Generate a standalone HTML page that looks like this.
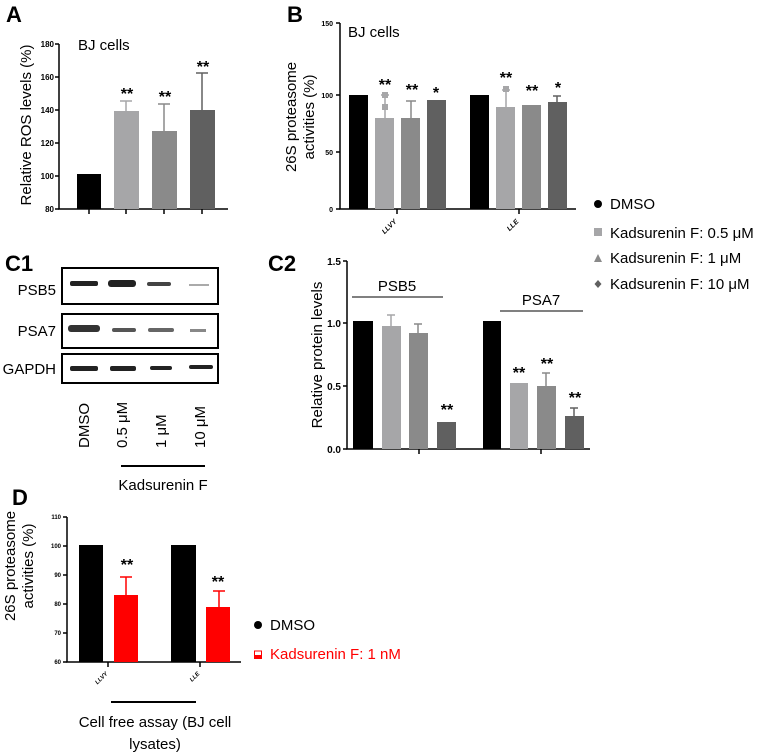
<!DOCTYPE html>
<html><head><meta charset="utf-8"><style>body{margin:0;background:#fff}svg{display:block}text{font-family:"Liberation Sans",sans-serif}</style></head><body>
<svg width="765" height="754" viewBox="0 0 765 754" xmlns="http://www.w3.org/2000/svg">
<!-- Panel A -->
<text x="6" y="22" font-size="22" font-weight="bold">A</text>
<g stroke="#000" stroke-width="1.5" fill="none">
<path d="M59 44V209H228"/>
<path d="M55 44H59M55 77H59M55 110H59M55 143H59M55 176H59M55 209H59"/>
<path d="M89 209v5M126 209v5M164 209v5M202 209v5"/>
</g>
<g font-size="8" font-weight="bold" text-anchor="end">
<text x="54" y="47">180</text><text x="54" y="80">160</text><text x="54" y="113">140</text><text x="54" y="146">120</text><text x="54" y="179">100</text><text x="54" y="212">80</text>
</g>
<text x="78" y="50" font-size="15">BJ cells</text>
<text transform="translate(31,125) rotate(-90)" font-size="15" text-anchor="middle">Relative ROS levels (%)</text>
<rect x="77" y="174" width="24" height="35" fill="#000"/>
<rect x="114" y="111" width="25" height="98" fill="#a6a6a8"/>
<rect x="152" y="131" width="25" height="78" fill="#8a8a8a"/>
<rect x="190" y="110" width="25" height="99" fill="#606060"/>
<g stroke-width="1.5" fill="none">
<path d="M126 111V101M120 101H132" stroke="#a6a6a8"/>
<path d="M164 131V104M158 104H170" stroke="#8a8a8a"/>
<path d="M202 110V73M196 73H208" stroke="#606060"/>
</g>
<g font-size="16" font-weight="bold" text-anchor="middle">
<text x="127" y="99">**</text><text x="165" y="102">**</text><text x="203" y="72">**</text>
</g>
<!-- Panel B -->
<text x="287" y="22" font-size="22" font-weight="bold">B</text>
<g stroke="#000" stroke-width="1.5" fill="none">
<path d="M340 23V209H576"/>
<path d="M336 23H340M336 95H340M336 152H340M336 209H340"/>
<path d="M397 209v5M519 209v5"/>
</g>
<g font-size="7" font-weight="bold" text-anchor="end">
<text x="333" y="26">150</text><text x="333" y="98">100</text><text x="333" y="155">50</text><text x="333" y="212">0</text>
</g>
<text x="348" y="37" font-size="15">BJ cells</text>
<text transform="translate(296,117) rotate(-90)" font-size="15" text-anchor="middle">26S proteasome</text>
<text transform="translate(314,117) rotate(-90)" font-size="15" text-anchor="middle">activities (%)</text>
<rect x="349" y="95" width="19" height="114" fill="#000"/>
<rect x="375" y="118" width="19" height="91" fill="#a6a6a8"/>
<rect x="401" y="118" width="19" height="91" fill="#8a8a8a"/>
<rect x="427" y="100" width="19" height="109" fill="#606060"/>
<rect x="470" y="95" width="19" height="114" fill="#000"/>
<rect x="496" y="107" width="19" height="102" fill="#a6a6a8"/>
<rect x="522" y="105" width="19" height="104" fill="#8a8a8a"/>
<rect x="548" y="102" width="19" height="107" fill="#606060"/>
<g stroke-width="1.5" fill="none">
<path d="M385 118V95M381 95H389" stroke="#a6a6a8"/>
<path d="M411 118V101M406 101H416" stroke="#8a8a8a"/>
<path d="M506 107V90M502 90H510" stroke="#a6a6a8"/>
<path d="M557 102V96M553 96H561" stroke="#606060"/>
</g>
<rect x="382" y="92" width="6" height="6" fill="#a6a6a8"/><rect x="382" y="104" width="6" height="6" fill="#a6a6a8"/>
<rect x="503" y="86" width="6" height="6" fill="#a6a6a8"/>
<g font-size="16" font-weight="bold" text-anchor="middle">
<text x="385" y="90">**</text><text x="412" y="95">**</text><text x="436" y="98">*</text>
<text x="506" y="83">**</text><text x="532" y="96">**</text><text x="558" y="93">*</text>
</g>
<g font-size="7" font-weight="bold" font-style="italic" text-anchor="end">
<text transform="translate(397,222) rotate(-45)">LLVY</text>
<text transform="translate(519,222) rotate(-45)">LLE</text>
</g>
<!-- Legend top -->
<circle cx="598" cy="204" r="4" fill="#000"/>
<text x="610" y="209" font-size="15">DMSO</text>
<rect x="594" y="228" width="8" height="8" fill="#a6a6a8"/>
<text x="610" y="238" font-size="15">Kadsurenin F: 0.5 μM</text>
<path d="M594 262L598 254L602 262Z" fill="#8a8a8a"/>
<text x="610" y="263" font-size="15">Kadsurenin F: 1 μM</text>
<path d="M598 280L601.5 284L598 288L594.5 284Z" fill="#606060"/>
<text x="610" y="289" font-size="15">Kadsurenin F: 10 μM</text>
<!-- C1 -->
<text x="5" y="271" font-size="22" font-weight="bold">C1</text>
<g fill="none" stroke="#000" stroke-width="2">
<rect x="62" y="268" width="156" height="36"/>
<rect x="62" y="314" width="156" height="34"/>
<rect x="62" y="354" width="156" height="29"/>
</g>
<g fill="#222">
<rect x="70" y="281" width="28" height="5" rx="2"/><rect x="108" y="280" width="28" height="7" rx="3"/><rect x="147" y="282" width="24" height="4" rx="2" fill="#444"/><rect x="189" y="284" width="20" height="2" fill="#aaa"/>
<rect x="68" y="325" width="32" height="7" rx="3" fill="#333"/><rect x="112" y="328" width="24" height="4" rx="2" fill="#555"/><rect x="148" y="328" width="26" height="4" rx="2" fill="#666"/><rect x="190" y="329" width="16" height="3" fill="#888"/>
<rect x="70" y="366" width="28" height="5" rx="2"/><rect x="110" y="366" width="26" height="5" rx="2"/><rect x="150" y="366" width="22" height="4" rx="2"/><rect x="189" y="365" width="24" height="4" rx="2"/>
</g>
<g font-size="15" text-anchor="end">
<text x="56" y="295">PSB5</text><text x="56" y="336">PSA7</text><text x="56" y="374">GAPDH</text>
</g>
<g font-size="15">
<text transform="translate(89,448) rotate(-90)">DMSO</text>
<text transform="translate(127,448) rotate(-90)">0.5 μM</text>
<text transform="translate(166,448) rotate(-90)">1 μM</text>
<text transform="translate(205,448) rotate(-90)">10 μM</text>
</g>
<path d="M121 466H205" stroke="#000" stroke-width="2"/>
<text x="163" y="490" font-size="15" text-anchor="middle">Kadsurenin F</text>
<!-- C2 -->
<text x="268" y="271" font-size="22" font-weight="bold">C2</text>
<g stroke="#000" stroke-width="1.5" fill="none">
<path d="M347 261V449H590"/>
<path d="M343 261H347M343 323H347M343 386H347M343 449H347"/>
<path d="M419 449v5M541 449v5"/>
<path d="M352 297H443M500 311H583" stroke-width="1"/>
</g>
<g font-size="10" font-weight="bold" text-anchor="end">
<text x="341" y="265">1.5</text><text x="341" y="327">1.0</text><text x="341" y="390">0.5</text><text x="341" y="453">0.0</text>
</g>
<text transform="translate(322,355) rotate(-90)" font-size="15" text-anchor="middle">Relative protein levels</text>
<text x="397" y="291" font-size="15" text-anchor="middle">PSB5</text>
<text x="541" y="305" font-size="15" text-anchor="middle">PSA7</text>
<rect x="353" y="321" width="20" height="128" fill="#000"/>
<rect x="382" y="326" width="19" height="123" fill="#a6a6a8"/>
<rect x="409" y="333" width="19" height="116" fill="#8a8a8a"/>
<rect x="437" y="422" width="19" height="27" fill="#606060"/>
<rect x="483" y="321" width="18" height="128" fill="#000"/>
<rect x="510" y="383" width="18" height="66" fill="#a6a6a8"/>
<rect x="537" y="386" width="19" height="63" fill="#8a8a8a"/>
<rect x="565" y="416" width="19" height="33" fill="#606060"/>
<g stroke-width="1.5" fill="none">
<path d="M391 326V315M387 315H395" stroke="#a6a6a8"/>
<path d="M418 333V324M414 324H422" stroke="#8a8a8a"/>
<path d="M546 386V373M542 373H550" stroke="#8a8a8a"/>
<path d="M574 416V408M570 408H578" stroke="#606060"/>
</g>
<g font-size="16" font-weight="bold" text-anchor="middle">
<text x="447" y="415">**</text><text x="519" y="378">**</text><text x="547" y="369">**</text><text x="575" y="403">**</text>
</g>
<!-- D -->
<text x="12" y="505" font-size="22" font-weight="bold">D</text>
<g stroke="#000" stroke-width="1.5" fill="none">
<path d="M67 517V662H241"/>
<path d="M63 517H67M63 546H67M63 575H67M63 604H67M63 633H67M63 662H67"/>
<path d="M108 662v5M200 662v5"/>
</g>
<g font-size="6" font-weight="bold" text-anchor="end">
<text x="61" y="519">110</text><text x="61" y="548">100</text><text x="61" y="577">90</text><text x="61" y="606">80</text><text x="61" y="635">70</text><text x="61" y="664">60</text>
</g>
<text transform="translate(15,566) rotate(-90)" font-size="15" text-anchor="middle">26S proteasome</text>
<text transform="translate(33,566) rotate(-90)" font-size="15" text-anchor="middle">activities (%)</text>
<rect x="79" y="545" width="24" height="117" fill="#000"/>
<rect x="114" y="595" width="24" height="67" fill="#f00"/>
<rect x="171" y="545" width="25" height="117" fill="#000"/>
<rect x="206" y="607" width="24" height="55" fill="#f00"/>
<g stroke="#f00" stroke-width="1.5" fill="none">
<path d="M126 595V577M120 577H132M219 607V591M213 591H225"/>
</g>
<g font-size="16" font-weight="bold" text-anchor="middle">
<text x="127" y="570">**</text><text x="218" y="587">**</text>
</g>
<g font-size="6" font-weight="bold" font-style="italic" text-anchor="end">
<text transform="translate(108,674) rotate(-45)">LLVY</text>
<text transform="translate(200,674) rotate(-45)">LLE</text>
</g>
<path d="M111 702H196" stroke="#000" stroke-width="2"/>
<text x="155" y="727" font-size="15" text-anchor="middle">Cell free assay (BJ cell</text>
<text x="155" y="749" font-size="15" text-anchor="middle">lysates)</text>
<circle cx="258" cy="625" r="4" fill="#000"/>
<text x="270" y="630" font-size="15">DMSO</text>
<rect x="254.5" y="651" width="7" height="7" fill="#fff" stroke="#f00" stroke-width="1"/>
<rect x="254" y="655" width="8" height="4" fill="#f00"/>
<text x="270" y="659" font-size="15" fill="#f00">Kadsurenin F: 1 nM</text>
</svg>
</body></html>
